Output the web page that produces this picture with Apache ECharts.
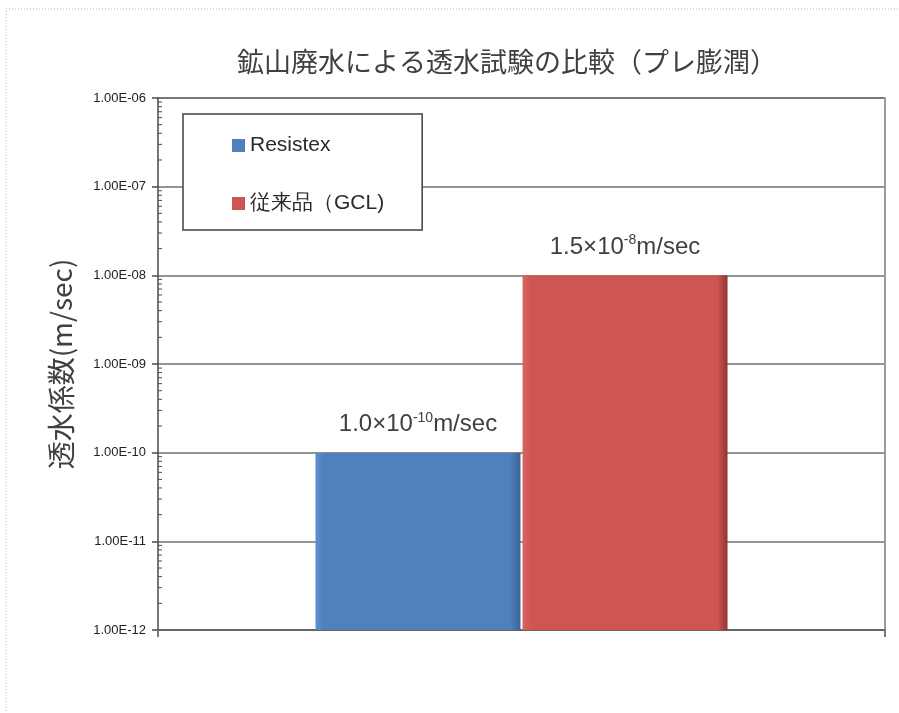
<!DOCTYPE html>
<html>
<head>
<meta charset="utf-8">
<script src="https://cdn.jsdelivr.net/npm/echarts@6/dist/echarts.min.js"></script>
<style>
html,body{margin:0;padding:0;background:#fff;}
#chart{width:899px;height:713px;}
</style>
</head>
<body>
<div id="chart"></div>
<script>
// ---- data ----
const titleText = '鉱山廃水による透水試験の比較（プレ膨潤）';
const yAxisName = '透水係数(m/sec)';
const categories = [''];
const seriesNames = ['Resistex', '従来品（GCL)'];
const resistexValues = [1e-10];
const gclValues = [1e-8];
const labelMantissa = ['1.0', '1.5'];
const labelExponent = ['-10', '-8'];
const yMin = 1e-12;
const yMax = 1e-6;
const minorMultipliers = [2, 3, 4, 5, 6, 7, 8, 9];
const minorDecades = [1e-12, 1e-11, 1e-10, 1e-9, 1e-8, 1e-7];

// ---- build ----
const minorTickData = [];
minorDecades.forEach(d => minorMultipliers.forEach(m => minorTickData.push([0, d * m])));

function fmtExp(v) {
  const e = Math.round(Math.log10(v));
  const m = v / Math.pow(10, e);
  const sign = e < 0 ? '-' : '+';
  const ee = String(Math.abs(e)).padStart(2, '0');
  return m.toFixed(2) + 'E' + sign + ee;
}

function barGrad(light, main, dark) {
  return new echarts.graphic.LinearGradient(0, 0, 1, 0, [
    {offset: 0, color: light},
    {offset: 0.04, color: main},
    {offset: 0.95, color: main},
    {offset: 1, color: dark}
  ]);
}

const labelRich = {
  sup: {fontSize: 14, fontFamily: 'Liberation Sans', color: '#404040', verticalAlign: 'top', lineHeight: 16},
};
function makeLabel(idx) {
  return {
    show: true,
    position: 'top',
    distance: 14,
    fontSize: 24,
    lineHeight: 28,
    fontFamily: 'Liberation Sans',
    color: '#404040',
    formatter: () => labelMantissa[idx] + '×10{sup|' + labelExponent[idx] + '}m/sec',
    rich: labelRich
  };
}

const logAxisBase = {
  type: 'log',
  logBase: 10,
  min: yMin,
  max: yMax,
  startValue: yMin,
  splitNumber: 6
};

const chart = echarts.init(document.getElementById('chart'));
chart.setOption({
  animation: false,
  backgroundColor: '#fff',
  title: {
    text: titleText,
    left: 237,
    top: 48,
    padding: 0,
    textStyle: {fontSize: 27, fontWeight: 'normal', color: '#404040', fontFamily: 'Noto Sans CJK JP'}
  },
  graphic: [{
    type: 'rect', z: -10, silent: true,
    shape: {x: 6, y: 9, width: 1200, height: 1200},
    style: {fill: 'none', stroke: '#b5b5b5', lineWidth: 1, lineDash: [1, 2]}
  }],
  legend: {
    data: seriesNames,
    orient: 'vertical',
    left: 183,
    top: 114,
    padding: [21, 38, 16, 49],
    itemGap: 37,
    itemWidth: 13,
    itemHeight: 13,
    icon: 'rect',
    borderColor: '#404040',
    borderWidth: 1.5,
    backgroundColor: '#fff',
    textStyle: {fontSize: 21, color: '#2a2a2a', fontFamily: 'Liberation Sans'},
    selectedMode: false
  },
  grid: {
    left: 158, right: 14, top: 98, bottom: 83
  },
  xAxis: {
    type: 'category',
    data: categories,
    axisLine: {show: true, lineStyle: {color: '#555', width: 1.5}},
    axisTick: {show: true, length: 7, lineStyle: {color: '#777', width: 2}},
    axisLabel: {show: false},
    splitLine: {show: false}
  },
  yAxis: [
    Object.assign({}, logAxisBase, {
      name: yAxisName,
      nameLocation: 'middle',
      nameGap: 83,
      nameRotate: 90,
      nameTextStyle: {fontSize: 28, color: '#404040', fontFamily: 'Noto Sans CJK JP'},
      axisLine: {show: true, lineStyle: {color: '#4a4a4a', width: 1.5}},
      axisTick: {show: true, length: 6, lineStyle: {color: '#4a4a4a', width: 1.5}},
      axisLabel: {formatter: fmtExp, fontSize: 13, color: '#222', fontFamily: 'Liberation Sans', margin: 12},
      splitLine: {show: true, lineStyle: {color: '#707070', width: 1.5}}
    }),
    Object.assign({}, logAxisBase, {
      position: 'right',
      axisLine: {show: true, onZero: false, lineStyle: {color: '#9a9a9a', width: 2}},
      axisTick: {show: false},
      axisLabel: {show: false},
      splitLine: {show: false}
    })
  ],
  series: [
    {
      name: seriesNames[0], type: 'bar', data: resistexValues,
      barWidth: 205, barGap: '1%',
      itemStyle: {color: barGrad('#5d90cc', '#4f81bd', '#3b6495')},
      label: makeLabel(0)
    },
    {
      name: seriesNames[1], type: 'bar', data: gclValues,
      barWidth: 205, barGap: '1%',
      itemStyle: {color: barGrad('#d86460', '#cd5652', '#8f3532')},
      label: makeLabel(1)
    },
    {
      name: 'minorTicks', type: 'custom', silent: true, z: 5,
      data: minorTickData,
      renderItem: function (params, api) {
        const p = api.coord([api.value(0), api.value(1)]);
        const x0 = params.coordSys.x;
        return {
          type: 'line',
          shape: {x1: x0, y1: p[1], x2: x0 + 4, y2: p[1]},
          style: {stroke: '#4a4a4a', lineWidth: 1}
        };
      }
    }
  ]
});
</script>
</body>
</html>
